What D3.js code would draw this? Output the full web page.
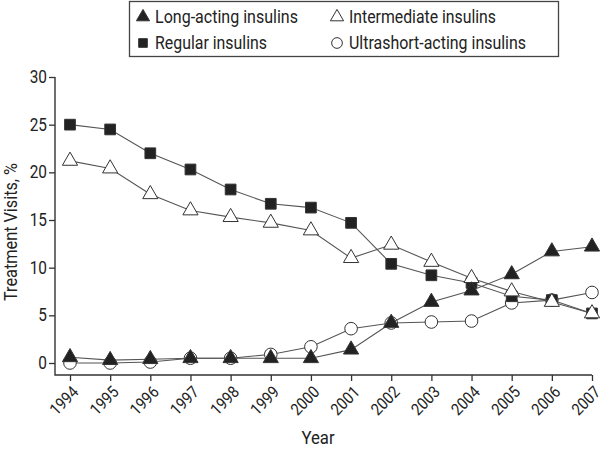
<!DOCTYPE html>
<html><head><meta charset="utf-8">
<script src="https://cdn.jsdelivr.net/npm/d3@7"></script>
<style>
body{margin:0;background:#fff;}
svg{display:block;}
text{font-family:Roboto,"Liberation Sans",sans-serif;fill:#222;}
</style></head><body>
<svg id="c" width="600" height="449"></svg>
<script>
const years = [1994,1995,1996,1997,1998,1999,2000,2001,2002,2003,2004,2005,2006,2007];
const longActing   = [0.6,0.3,0.4,0.5,0.5,0.5,0.5,1.4,4.2,6.4,7.6,9.3,11.7,12.2];
const regular      = [25.0,24.5,22.0,20.3,18.2,16.7,16.3,14.7,10.4,9.2,8.4,7.0,6.6,5.2];
const intermediate = [21.2,20.4,17.7,16.0,15.3,14.7,13.9,11.0,12.4,10.6,8.9,7.5,6.4,5.2];
const ultrashort   = [0.0,0.0,0.1,0.5,0.5,0.9,1.7,3.6,4.2,4.3,4.4,6.3,6.6,7.4];
const yTicks = [0,5,10,15,20,25,30];
const seriesNames = ["Long-acting insulins","Regular insulins","Intermediate insulins","Ultrashort-acting insulins"];

const svg = d3.select("#c");
const x = d3.scaleLinear().domain([1994,2007]).range([70,592]);
const y = d3.scaleLinear().domain([0,30]).range([363,77]);
const axisLeftX = 55, axisBottomY = 375;
const SX = 0.88;

// axes
const yAxis = d3.axisLeft(y).tickValues(yTicks).tickSize(6).tickSizeOuter(0).tickPadding(3);
const gy = svg.append("g").attr("transform",`translate(${axisLeftX},0)`).call(yAxis);
gy.select(".domain").remove();
gy.selectAll("line").attr("stroke","#333").attr("stroke-width",1.3);
gy.selectAll("text").style("font-size","17.5px").attr("fill","#222")
  .attr("x",0).attr("transform",`translate(-8,0) scale(${SX},1)`);

const xAxis = d3.axisBottom(x).tickValues(years).tickFormat(d3.format("d")).tickSize(6).tickSizeOuter(0);
const gx = svg.append("g").attr("transform",`translate(0,${axisBottomY})`).call(xAxis);
gx.select(".domain").remove();
gx.selectAll("line").attr("stroke","#333").attr("stroke-width",1.3);
gx.selectAll("text").style("font-size","16.5px").attr("text-anchor","end")
  .attr("dy","0.35em").attr("y",0)
  .attr("transform",`translate(5,14) rotate(-45) scale(${SX},1)`);

svg.append("path").attr("d",`M${axisLeftX},${y(30)}V${axisBottomY}H${x(2007)}`)
  .attr("fill","none").attr("stroke","#333").attr("stroke-width",1.4);

svg.append("text").attr("transform",`translate(318,444) scale(${SX},1)`).attr("text-anchor","middle")
  .style("font-size","19px").text("Year");
svg.append("text").attr("transform",`translate(17,232) rotate(-90) scale(${SX},1)`).attr("text-anchor","middle")
  .style("font-size","18.5px").text("Treatment Visits, %");

// series drawing
const line = d3.line().x((d,i)=>x(years[i])).y(d=>y(d));
const tri = d3.symbol().type(d3.symbolTriangle).size(100);
const sq = d3.symbol().type(d3.symbolSquare).size(115);
const circ = d3.symbol().type(d3.symbolCircle).size(125);

function drawSeries(vals, sym, fill){
  svg.append("path").attr("d",line(vals)).attr("fill","none").attr("stroke","#555").attr("stroke-width",1.1);
  svg.append("g").selectAll("path").data(vals).join("path")
    .attr("d",sym)
    .attr("transform",(d,i)=>`translate(${x(years[i])},${y(d)})`)
    .attr("fill",fill).attr("stroke","#333").attr("stroke-width",1);
}
drawSeries(ultrashort, circ, "#fff");
drawSeries(regular, sq, "#222");
drawSeries(intermediate, tri, "#fff");
drawSeries(longActing, tri, "#222");

// legend
const lg = svg.append("g");
lg.append("rect").attr("x",129.5).attr("y",1.5).attr("width",429).attr("height",55)
  .attr("fill","#fff").attr("stroke","#444").attr("stroke-width",1.3);
const legItems = [
  {name:seriesNames[0], type:d3.symbolTriangle, size:75, fill:"#222", lx:143, ly:17, w:143},
  {name:seriesNames[2], type:d3.symbolTriangle, size:75, fill:"#fff", lx:337, ly:17, w:147},
  {name:seriesNames[1], type:d3.symbolSquare, size:75, fill:"#222", lx:143, ly:43, w:112},
  {name:seriesNames[3], type:d3.symbolCircle, size:90, fill:"#fff", lx:337, ly:43, w:177}
];
legItems.forEach(it=>{
  lg.append("path").attr("d",d3.symbol().type(it.type).size(it.size))
    .attr("transform",`translate(${it.lx},${it.ly})`).attr("fill",it.fill).attr("stroke","#333").attr("stroke-width",1);
  lg.append("text").attr("x",it.lx+12).attr("y",it.ly).attr("dy","0.36em").style("font-size","18px")
    .attr("textLength",it.w).attr("lengthAdjust","spacingAndGlyphs").text(it.name);
});
</script>
</body></html>
